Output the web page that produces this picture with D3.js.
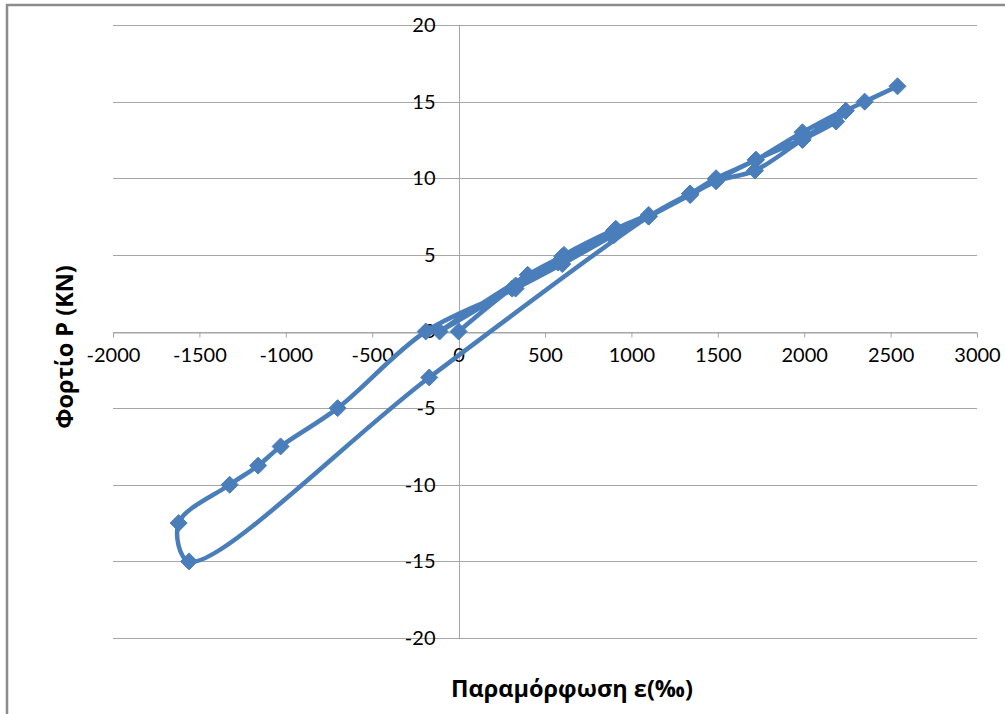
<!DOCTYPE html>
<html>
<head>
<meta charset="utf-8">
<script src="https://cdn.jsdelivr.net/npm/d3@7"></script>
<style>
  html, body { margin: 0; padding: 0; background: #fff; }
  svg { display: block; }
</style>
</head>
<body>
<svg id="chart" width="1005" height="714"></svg>
<script>
// ---- data ----
const strain = [0, 330, 610, 910, 1100, 880, 575, 310, -110, 400, 600, 900, 1100, 1340, 1490, 1720, 1990, 2240,
                2185, 1990, 1715, 1490, 1340, 900, 600, 330, -190, -700, -1030, -1160, -1325, -1620, -1560, -170,
                1100, 1340, 1490, 1720, 1990, 2240, 2350, 2540];
const load   = [0, 3.0, 5.0, 6.7, 7.6, 6.3, 4.5, 2.8, 0, 3.7, 4.9, 6.6, 7.5, 9.0, 10.0, 11.2, 13.0, 14.4,
                13.7, 12.5, 10.5, 9.8, 8.9, 6.3, 4.4, 2.8, 0, -5.0, -7.5, -8.75, -10.0, -12.5, -15.0, -3.0,
                7.5, 9.0, 9.9, 11.2, 12.6, 14.4, 15.0, 16.0];
const xTicks = [-2000, -1500, -1000, -500, 0, 500, 1000, 1500, 2000, 2500, 3000];
const yTicks = [-20, -15, -10, -5, 0, 5, 10, 15, 20];
const xTitle = "Παραμόρφωση ε(‰)";
const yTitle = "Φορτίο P (KN)";

const points = strain.map((s, i) => ({ x: s, y: load[i] }));

const svg = d3.select("#chart");
const color = "#4A7EBB";
const gridColor = "#a6a6a6";
const tickFont = "Lato, 'Open Sans', sans-serif";
const titleFont = "'Open Sans', 'Noto Sans', sans-serif";

// outer chart border
svg.append("rect")
  .attr("x", 7).attr("y", 5).attr("width", 1020).attr("height", 730)
  .attr("fill", "#fff").attr("stroke", "#8c8c8c").attr("stroke-width", 2.5);

const x = d3.scaleLinear().domain([-2000, 3000]).range([113, 977]);
const y = d3.scaleLinear().domain([-20, 20]).range([638, 25]);

// horizontal gridlines
svg.append("g").selectAll("line").data(yTicks).join("line")
  .attr("x1", x(-2000)).attr("x2", x(3000))
  .attr("y1", d => Math.round(y(d)) + 0.5).attr("y2", d => Math.round(y(d)) + 0.5)
  .attr("stroke", gridColor).attr("stroke-width", 1);

// vertical axis line at x=0
svg.append("line")
  .attr("x1", Math.round(x(0)) + 0.5).attr("x2", Math.round(x(0)) + 0.5)
  .attr("y1", y(20)).attr("y2", y(-20))
  .attr("stroke", gridColor).attr("stroke-width", 1);

// x axis at y=0
const xAxis = d3.axisBottom(x).tickValues(xTicks).tickSize(5).tickSizeOuter(0).tickPadding(10)
  .tickFormat(d3.format("d"));
const gx = svg.append("g").attr("transform", `translate(0,${Math.round(y(0)) + 0.5})`).call(xAxis);
gx.select(".domain").attr("stroke", gridColor);
gx.selectAll(".tick line").attr("stroke", gridColor);
gx.selectAll(".tick text").attr("fill", "#000").attr("font-family", tickFont).attr("font-size", 20)
  .attr("text-anchor", "middle").text(d => d < 0 ? "-" + Math.abs(d) : String(d));

// y axis labels
const yAxis = d3.axisLeft(y).tickValues(yTicks).tickSize(0).tickPadding(24)
  .tickFormat(d => d < 0 ? "-" + Math.abs(d) : String(d));
const gy = svg.append("g").attr("transform", `translate(${Math.round(x(0)) + 0.5},0)`).call(yAxis);
gy.select(".domain").remove();
gy.selectAll(".tick text").attr("fill", "#000").attr("font-family", tickFont).attr("font-size", 20);

// series line (smoothed)
const line = d3.line().x(d => x(d.x)).y(d => y(d.y)).curve(d3.curveCatmullRom.alpha(0.5));
svg.append("path").datum(points)
  .attr("d", line).attr("fill", "none").attr("stroke", color).attr("stroke-width", 4.5)
  .attr("stroke-linejoin", "round").attr("stroke-linecap", "round");

// diamond markers
const h = 8.5;
svg.append("g").selectAll("path").data(points).join("path")
  .attr("transform", d => `translate(${x(d.x)},${y(d.y)})`)
  .attr("d", `M0,${-h}L${h},0L0,${h}L${-h},0Z`)
  .attr("fill", color).attr("stroke", color).attr("stroke-width", 1);

// titles
svg.append("text").attr("x", 572).attr("y", 697).attr("text-anchor", "middle")
  .attr("font-family", titleFont).attr("font-weight", "bold").attr("font-size", 23.5)
  .attr("fill", "#000").text(xTitle);
svg.append("text").attr("transform", "translate(73,347) rotate(-90)").attr("text-anchor", "middle")
  .attr("font-family", titleFont).attr("font-weight", "bold").attr("font-size", 23.5)
  .attr("fill", "#000").text(yTitle);
</script>
</body>
</html>
